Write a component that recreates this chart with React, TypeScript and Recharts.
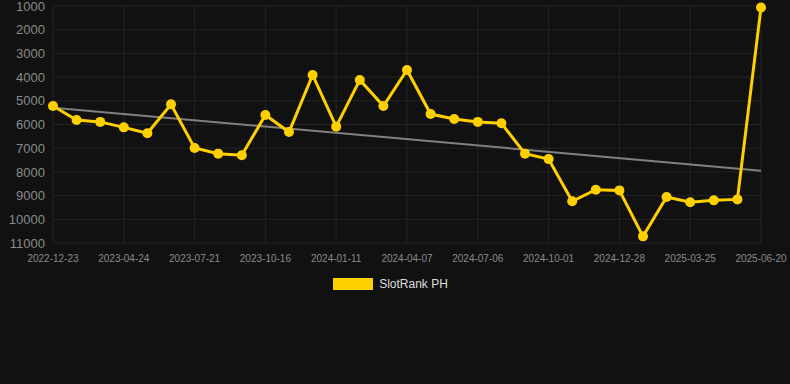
import { LineChart, Line, XAxis, YAxis, CartesianGrid, Legend, ReferenceLine } from "recharts";

// dates for each point (labels shown every 3rd)
const dates = [
  "2022-12-23", "2023-02-23", "2023-03-24",
  "2023-04-24", "2023-05-23", "2023-06-21",
  "2023-07-21", "2023-08-19", "2023-09-17",
  "2023-10-16", "2023-11-14", "2023-12-13",
  "2024-01-11", "2024-02-09", "2024-03-09",
  "2024-04-07", "2024-05-07", "2024-06-06",
  "2024-07-06", "2024-08-03", "2024-09-02",
  "2024-10-01", "2024-10-30", "2024-11-29",
  "2024-12-28", "2025-01-26", "2025-02-24",
  "2025-03-25", "2025-04-23", "2025-05-22",
  "2025-06-20",
];

const ranks = [
  5220, 5810, 5890, 6120, 6370, 5150, 6990, 7230, 7300, 5600,
  6320, 3910, 6090, 4120, 5220, 3700, 5560, 5770, 5890, 5950,
  7230, 7460, 9240, 8750, 8780, 10720, 9060, 9280, 9200, 9160,
  1060,
];

const yTicks = [1000, 2000, 3000, 4000, 5000, 6000, 7000, 8000, 9000, 10000, 11000];

// trend line endpoints (rank at first and last date)
const trendEnds = [5290, 7950];

const data = dates.map((d, i) => ({ date: d, rank: ranks[i] }));

const LegendBox = () => (
  <div
    style={{
      display: "flex",
      justifyContent: "center",
      alignItems: "center",
      paddingLeft: 20,
      marginTop: 4,
      fontFamily: "Liberation Sans, Arial, sans-serif",
    }}
  >
    <span style={{ display: "inline-block", width: 40, height: 12, background: "#FFD000", marginRight: 6 }} />
    <span style={{ color: "#dddddd", fontSize: 12 }}>SlotRank PH</span>
  </div>
);

export default function App() {
  return (
    <div style={{ position: "absolute", left: 0, top: 0, width: 790, height: 384, background: "#111111" }}>
      <LineChart
        width={790}
        height={384}
        data={data}
        margin={{ top: 6, right: 29, left: 0, bottom: 81 }}
        style={{ fontFamily: "Liberation Sans, Arial, sans-serif" }}
      >
        <CartesianGrid stroke="#242424" strokeWidth={1} />
        <XAxis
          dataKey="date"
          interval={2}
          tickLine={false}
          axisLine={false}
          tick={{ fill: "#8a8a8a", fontSize: 10 }}
          tickMargin={6}
          height={30}
        />
        <YAxis
          reversed
          domain={[1000, 11000]}
          ticks={yTicks}
          interval={0}
          tickLine={false}
          axisLine={false}
          tick={{ fill: "#8a8a8a", fontSize: 13 }}
          tickMargin={2}
          width={53}
        />
        <ReferenceLine
          segment={[
            { x: dates[0], y: trendEnds[0] },
            { x: dates[dates.length - 1], y: trendEnds[1] },
          ]}
          stroke="#808080"
          strokeWidth={2}
        />
        <Line
          type="linear"
          dataKey="rank"
          name="SlotRank PH"
          stroke="#FFD000"
          strokeWidth={3}
          dot={{ r: 5, fill: "#FFD000", stroke: "#FFD000", strokeWidth: 0 }}
          activeDot={false}
          isAnimationActive={false}
        />
        <Legend verticalAlign="bottom" height={30} content={<LegendBox />} />
      </LineChart>
    </div>
  );
}
